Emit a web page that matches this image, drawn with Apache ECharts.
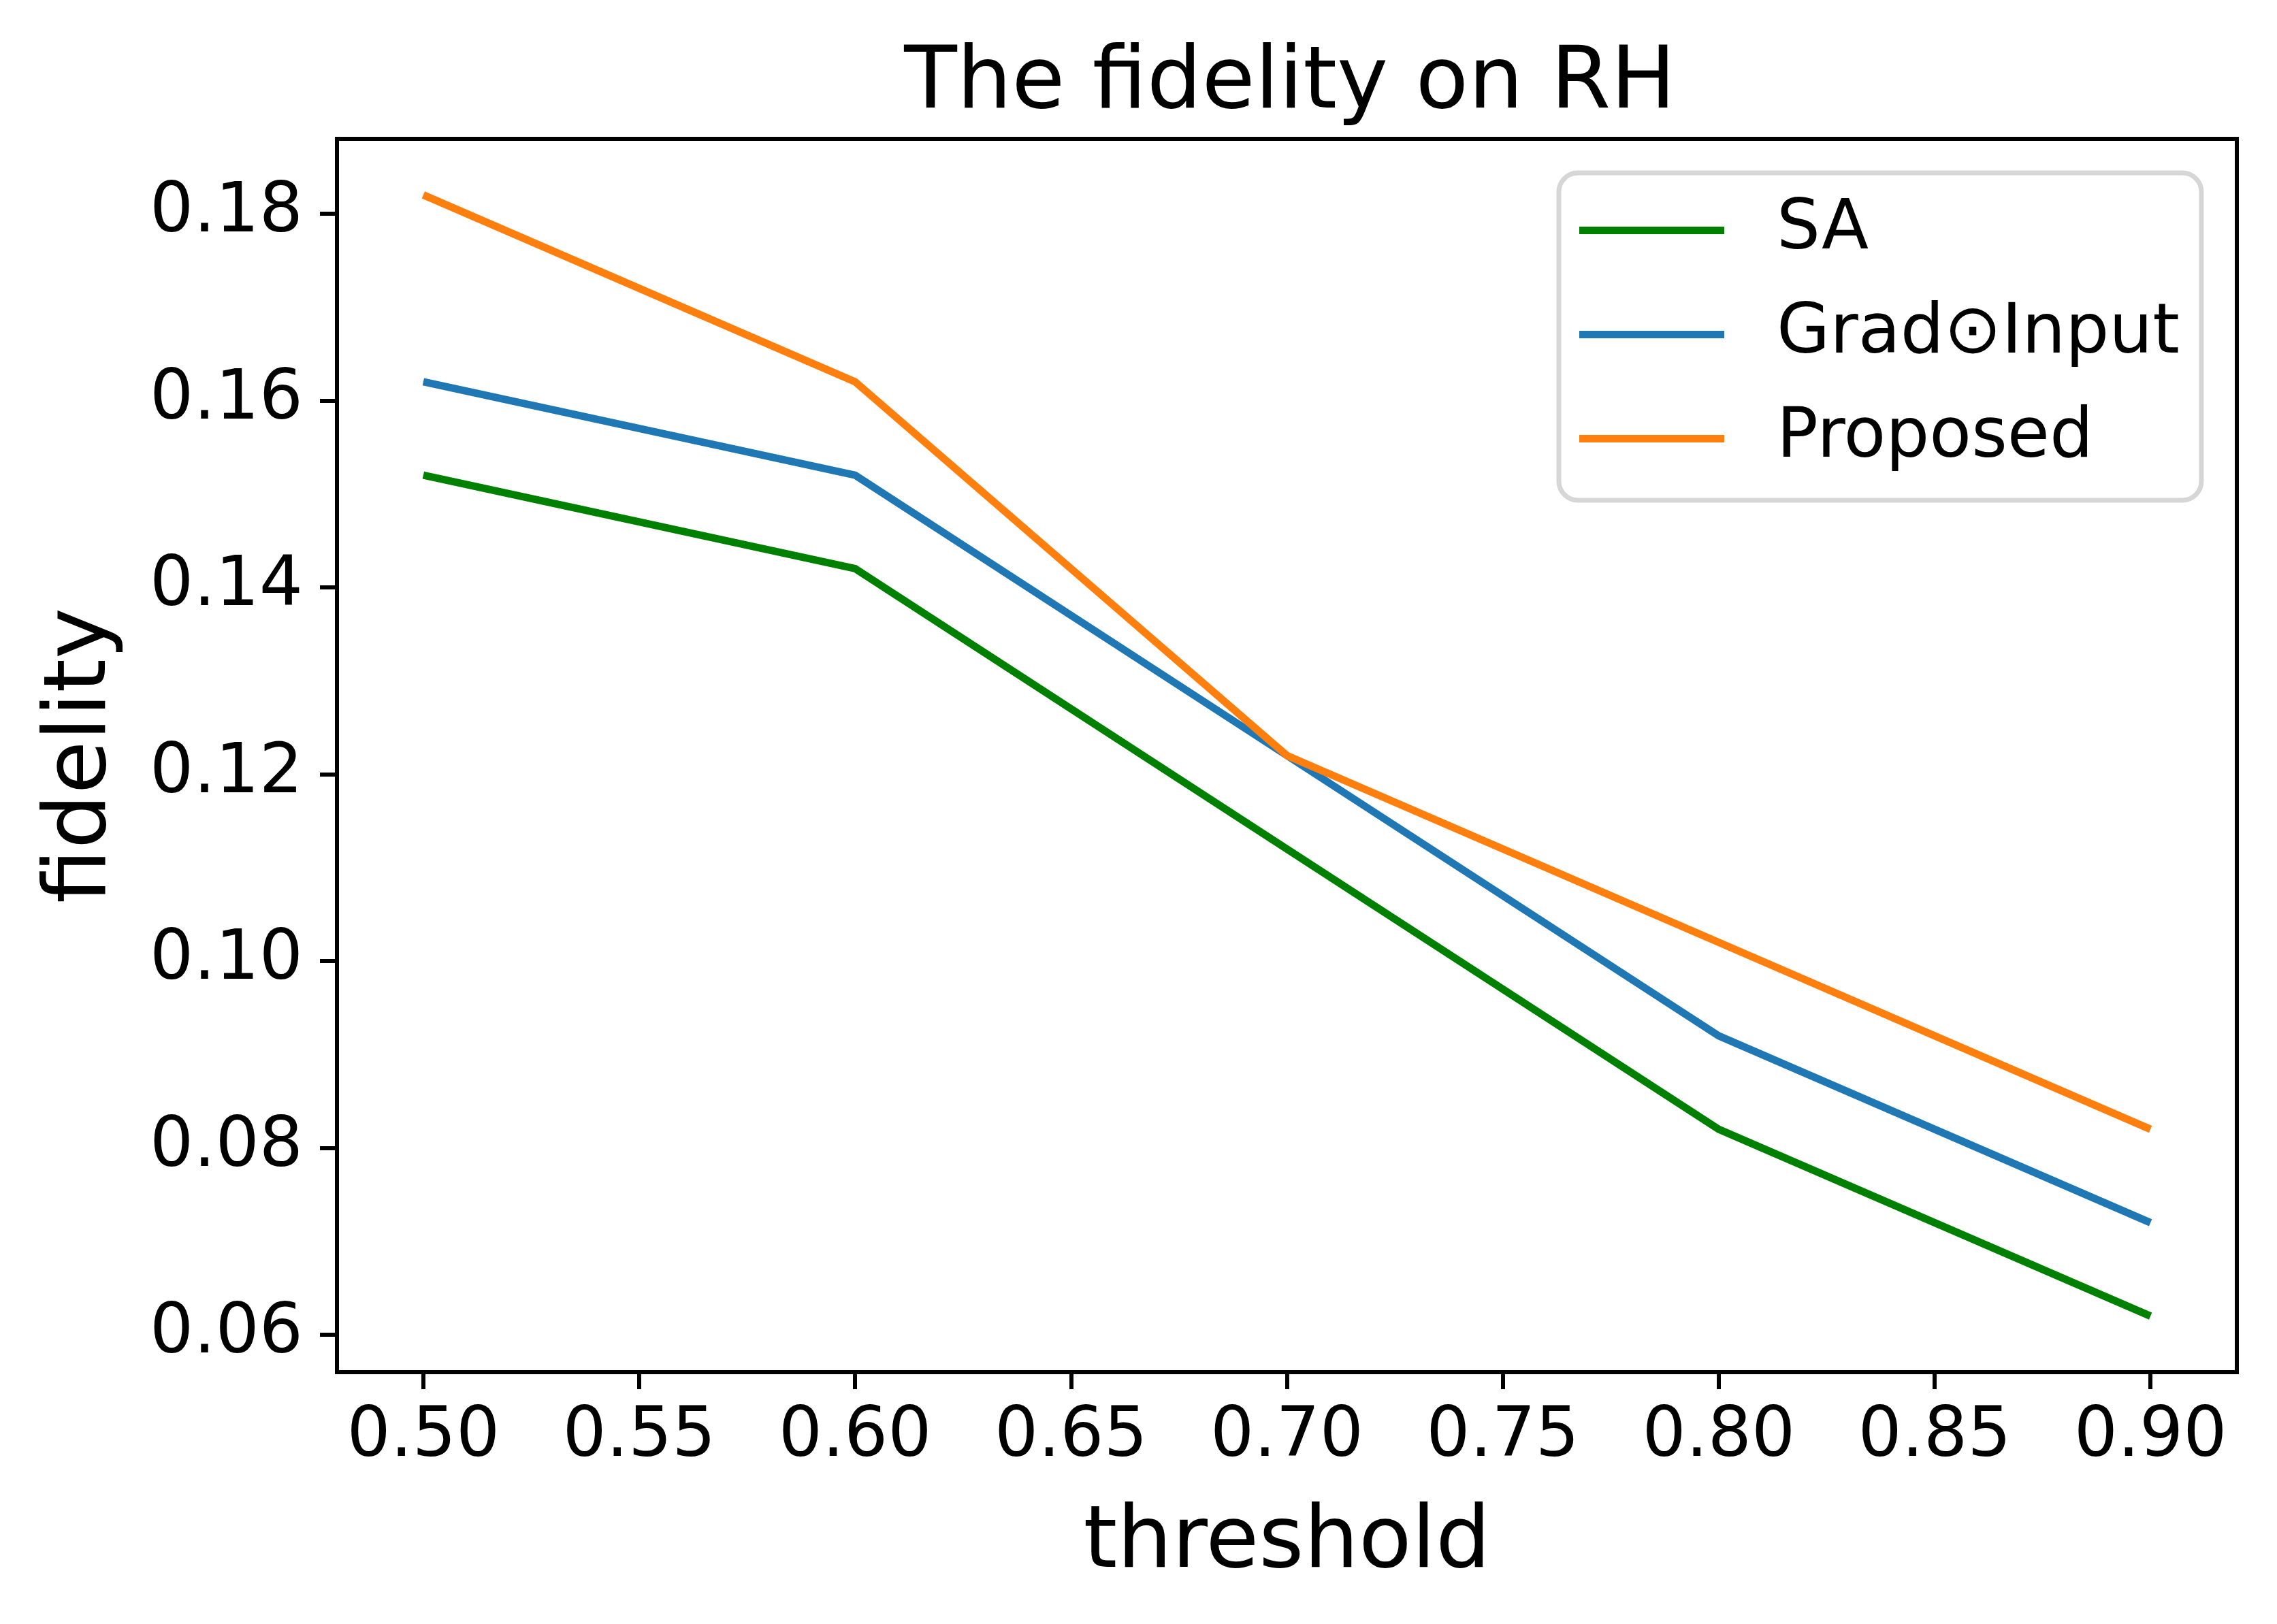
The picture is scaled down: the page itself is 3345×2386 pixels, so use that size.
<!doctype html>
<html lang="en">
<head>
    <meta charset="UTF-8">
    <title>The fidelity on RH</title>
    <style>
        html, body { margin: 0; padding: 0; background: #fff; }
        #main { width: 3345px; height: 2386px; }
    </style>
</head>
<body>
<div id="main"></div>
<script src="https://cdn.jsdelivr.net/npm/echarts@6/dist/echarts.min.js"></script>
<script type="text/javascript">
    // thresholds on the x axis
    var thresholds = [0.5, 0.6, 0.7, 0.8, 0.9];
    // fidelity values
    var sa_data       = [0.152, 0.142, 0.112, 0.082, 0.062];
    var grad_data     = [0.162, 0.152, 0.122, 0.092, 0.072];
    var proposed_data = [0.182, 0.162, 0.122, 0.102, 0.082];
    // tick labels
    var x_ticks = [0.50, 0.55, 0.60, 0.65, 0.70, 0.75, 0.80, 0.85, 0.90];
    var y_ticks = [0.06, 0.08, 0.10, 0.12, 0.14, 0.16, 0.18];

    var font = "DejaVu Sans";
    var chart = echarts.init(document.getElementById('main'), null, {renderer: 'canvas'});

    function pairs(ys) {
        var out = [];
        for (var i = 0; i < thresholds.length; i++) {
            out.push([thresholds[i], ys[i]]);
        }
        return out;
    }

    function make_serie(name, color, ys) {
        return {
            name: name,
            type: 'line',
            data: pairs(ys),
            showSymbol: false,
            symbol: 'none',
            animation: false,
            lineStyle: {color: color, width: 11, cap: 'butt', join: 'miter'},
            itemStyle: {color: color}
        };
    }

    var option = {
        backgroundColor: '#ffffff',
        animation: false,
        title: {
            text: 'The fidelity on RH',
            left: 1890,
            top: 57,
            textAlign: 'center',
            textStyle: {fontFamily: font, fontSize: 127, fontWeight: 'normal', color: '#000'}
        },
        legend: {
            orient: 'vertical',
            left: 2290,
            top: 254,
            padding: [34, 32, 40, 30],
            itemWidth: 213,
            itemHeight: 11,
            itemGap: 52,
            icon: 'rect',
            backgroundColor: 'rgba(255,255,255,0.8)',
            borderColor: '#d6d6d6',
            borderWidth: 7,
            borderRadius: 28,
            textStyle: {fontFamily: font, fontSize: 101, color: '#000', lineHeight: 101, padding: [0, 0, 0, 72]},
            data: ['SA', 'Grad\u2299Input', 'Proposed']
        },
        grid: {
            left: 495,
            top: 204,
            width: 2791,
            height: 1812,
            show: true,
            borderColor: '#000',
            borderWidth: 6,
            backgroundColor: 'transparent'
        },
        xAxis: {
            type: 'value',
            min: 0.48,
            max: 0.92,
            name: 'threshold',
            nameLocation: 'middle',
            nameGap: 190,
            nameTextStyle: {fontFamily: font, fontSize: 127, color: '#000'},
            axisLine: {show: true, lineStyle: {color: '#000', width: 6}},
            axisTick: {show: true, length: 25, lineStyle: {color: '#000', width: 6}, customValues: x_ticks},
            axisLabel: {
                margin: 46,
                fontFamily: font, fontSize: 101, color: '#000',
                customValues: x_ticks,
                formatter: function (v) { return v.toFixed(2); }
            },
            splitLine: {show: false}
        },
        yAxis: {
            type: 'value',
            min: 0.056,
            max: 0.188,
            name: 'fidelity',
            nameLocation: 'middle',
            nameRotate: 90,
            nameGap: 310,
            nameTextStyle: {fontFamily: font, fontSize: 127, color: '#000'},
            axisLine: {show: true, lineStyle: {color: '#000', width: 6}},
            axisTick: {show: true, length: 25, lineStyle: {color: '#000', width: 6}, customValues: y_ticks},
            axisLabel: {
                margin: 50,
                fontFamily: font, fontSize: 101, color: '#000',
                customValues: y_ticks,
                formatter: function (v) { return v.toFixed(2); }
            },
            splitLine: {show: false}
        },
        series: [
            make_serie('SA', '#008000', sa_data),
            make_serie('Grad\u2299Input', '#1f77b4', grad_data),
            make_serie('Proposed', '#ff7f0e', proposed_data)
        ]
    };
    chart.setOption(option);
</script>
</body>
</html>
